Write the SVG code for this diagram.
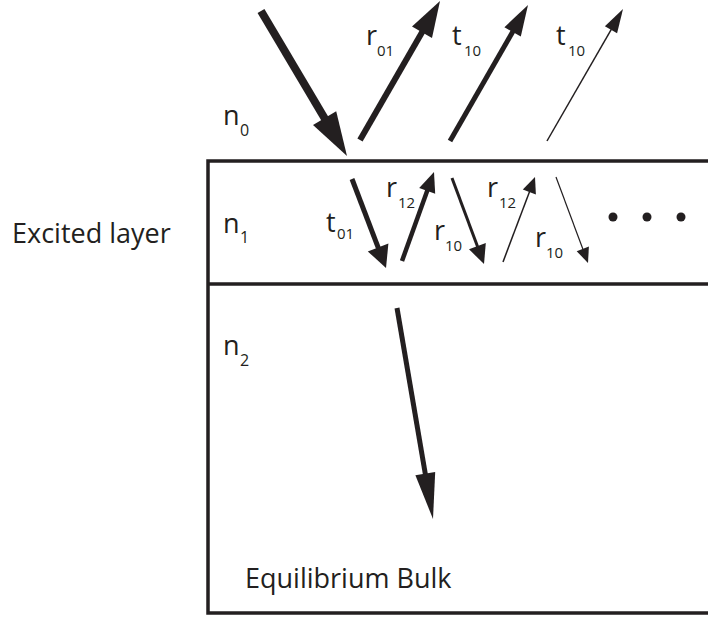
<svg xmlns="http://www.w3.org/2000/svg" width="708" height="617" viewBox="0 0 708 617">
  <style>
    .frame { stroke: #231f20; stroke-width: 3.5; fill: none; }
    .shaft { stroke: #231f20; fill: none; stroke-linecap: butt; }
    .head { fill: #231f20; stroke: none; }
    .lbl { font-family: "Open Sans", "Liberation Sans", sans-serif; font-size: 27px; fill: #231f20; }
    .sub { font-family: "Open Sans", "Liberation Sans", sans-serif; font-size: 15px; fill: #231f20; }
    .nsub { font-family: "Open Sans", "Liberation Sans", sans-serif; font-size: 16px; fill: #231f20; }
    .dot { fill: #231f20; }
  </style>
  <rect width="708" height="617" fill="#ffffff"/>

  <g id="layers">
    <path class="frame" d="M208,159.25 V614.75 M206.25,161 H708 M208,284 H708 M206.25,613 H708"/>
  </g>

  <g id="medium-labels">
    <g id="n0"><text class="lbl" x="223" y="125">n</text><text class="nsub" x="240" y="136">0</text></g>
    <g id="n1"><text class="lbl" x="223" y="233">n</text><text class="nsub" x="240" y="243">1</text></g>
    <g id="n2"><text class="lbl" x="223" y="355">n</text><text class="nsub" x="240" y="366">2</text></g>
    <g id="excited"><text class="lbl" x="12" y="243">Excited layer</text></g>
    <g id="bulk"><text class="lbl" x="245" y="588">Equilibrium Bulk</text></g>
  </g>

  <g id="connectors">
    <g id="incident">
      <line class="shaft" stroke-width="8" x1="261" y1="11" x2="325.5" y2="119.8"/>
      <polygon class="head" points="347,156 313.0,125.1 336.2,111.3"/>
    </g>
    <g id="r01-arrow">
      <line class="shaft" stroke-width="6" x1="360" y1="140" x2="422.5" y2="31.4"/>
      <polygon class="head" points="440,1 432.0,37.9 412.0,26.5"/>
    </g>
    <g id="t10a-arrow">
      <line class="shaft" stroke-width="5" x1="450" y1="141" x2="513" y2="31.2"/>
      <polygon class="head" points="528,5 520.8,36.6 504.4,27.2"/>
    </g>
    <g id="t10b-arrow">
      <line class="shaft" stroke-width="1.5" x1="547" y1="141" x2="611.3" y2="29.3"/>
      <polygon class="head" points="623,9 617.1,33.3 604.9,26.3"/>
    </g>
    <g id="t01-arrow">
      <line class="shaft" stroke-width="5" x1="352" y1="179" x2="378.4" y2="248.2"/>
      <polygon class="head" points="386,268 367.8,251.4 388.4,243.6"/>
    </g>
    <g id="r12a-arrow">
      <line class="shaft" stroke-width="4.5" x1="402" y1="261" x2="427.5" y2="190"/>
      <polygon class="head" points="434,172 435.2,193.7 419.2,187.9"/>
    </g>
    <g id="r10a-arrow">
      <line class="shaft" stroke-width="3" x1="452" y1="178" x2="477.6" y2="246.8"/>
      <polygon class="head" points="484,264 469.0,249.3 485.8,243.1"/>
    </g>
    <g id="r12b-arrow">
      <line class="shaft" stroke-width="1.5" x1="503" y1="262" x2="529.6" y2="191.4"/>
      <polygon class="head" points="535,177 535.9,194.5 522.8,189.5"/>
    </g>
    <g id="r10b-arrow">
      <line class="shaft" stroke-width="1.2" x1="556" y1="177" x2="583" y2="249.5"/>
      <polygon class="head" points="588,263 576.7,251.2 588.9,246.6"/>
    </g>
    <g id="bulk-arrow">
      <line class="shaft" stroke-width="5" x1="397" y1="308" x2="425.4" y2="474.4"/>
      <polygon class="head" points="433,519 415.4,475.3 435.2,471.9"/>
    </g>
  </g>

  <g id="coefficient-labels">
    <g id="r01"><text class="lbl" x="366" y="45">r</text><text class="sub" x="377" y="56">01</text></g>
    <g id="t10a"><text class="lbl" x="452" y="45">t</text><text class="sub" x="464" y="56">10</text></g>
    <g id="t10b"><text class="lbl" x="556" y="45">t</text><text class="sub" x="568" y="56">10</text></g>
    <g id="t01"><text class="lbl" x="326" y="232">t</text><text class="sub" x="337" y="239">01</text></g>
    <g id="r12a"><text class="lbl" x="386" y="197">r</text><text class="sub" x="398" y="208">12</text></g>
    <g id="r10a"><text class="lbl" x="434" y="240">r</text><text class="sub" x="445" y="251">10</text></g>
    <g id="r12b"><text class="lbl" x="487" y="197">r</text><text class="sub" x="499" y="208">12</text></g>
    <g id="r10b"><text class="lbl" x="535" y="247">r</text><text class="sub" x="546" y="258">10</text></g>
  </g>

  <g id="ellipsis">
    <circle class="dot" cx="613" cy="217" r="4.5"/>
    <circle class="dot" cx="647" cy="217" r="4.5"/>
    <circle class="dot" cx="681" cy="217" r="4.5"/>
  </g>
</svg>
